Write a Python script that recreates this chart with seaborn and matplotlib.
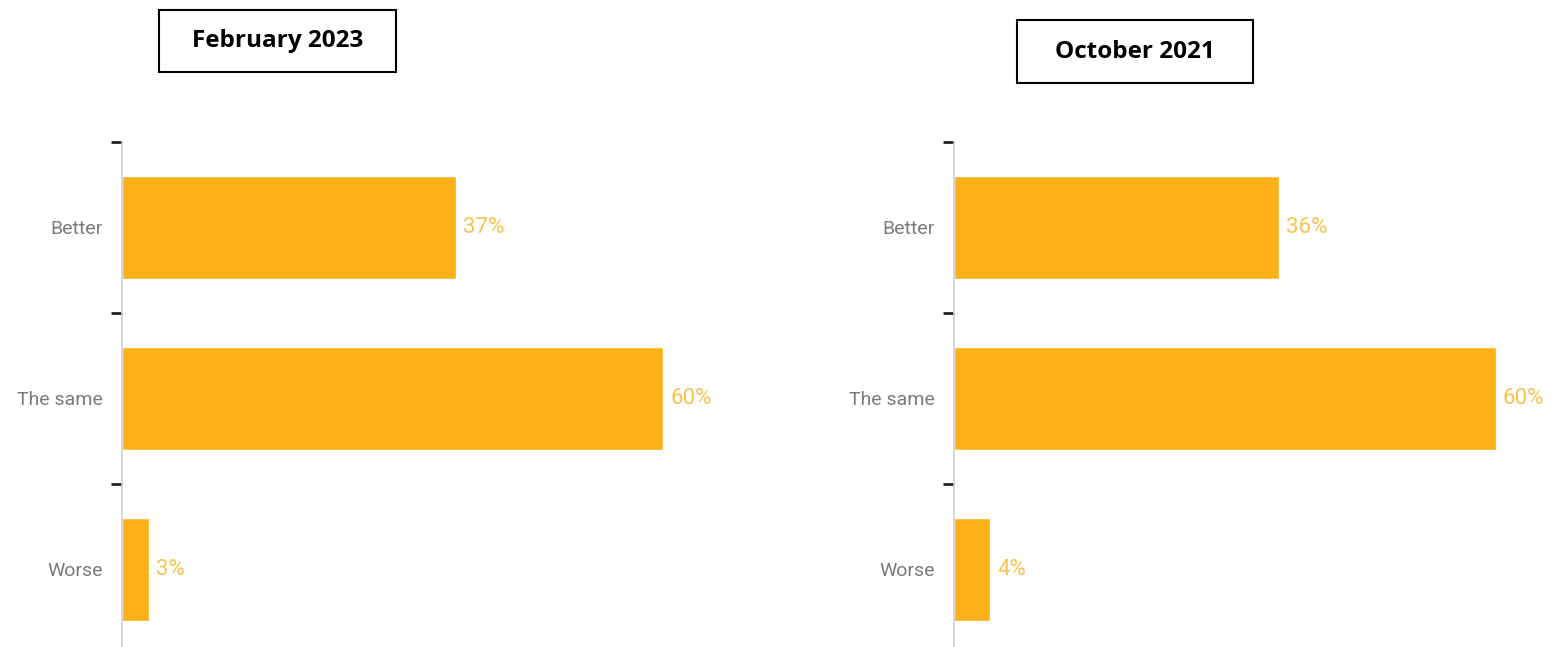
import matplotlib
matplotlib.use("Agg")
import matplotlib.pyplot as plt
import seaborn as sns
import pandas as pd
from matplotlib.patches import Rectangle

# Survey answers for the two waves
categories = ["Better", "The same", "Worse"]
values_feb_2023 = [37, 60, 3]
values_oct_2021 = [36, 60, 4]
panel_titles = ["February 2023", "October 2021"]

BAR_COLOR = "#FBB117"
VALUE_COLOR = "#F6C350"
LABEL_COLOR = "#7a7a7a"

sns.set_theme(style="white")
plt.rcParams["font.family"] = ["Roboto", "DejaVu Sans"]

W, H = 1562, 647
fig = plt.figure(figsize=(W / 100, H / 100), dpi=100)

XMAX = 65
# axes placement in pixels: (left, top, bottom, px per percent)
layouts = [(122, 142, 647, 9.02), (954, 142, 647, 9.03)]
boxes = [(159, 10, 396, 72), (1017, 20, 1253, 83)]

for vals, title, (left, top, bottom, ppu), (bx0, by0, bx1, by1) in zip(
        [values_feb_2023, values_oct_2021], panel_titles, layouts, boxes):
    ax = fig.add_axes([left / W, 1 - bottom / H, XMAX * ppu / W, (bottom - top) / H])
    df = pd.DataFrame({"category": categories, "value": vals})
    sns.barplot(data=df, y="category", x="value", orient="h", color=BAR_COLOR,
                width=0.6, saturation=1, ax=ax)
    # one category band = 171 px; the axis runs off the bottom edge
    ax.set_ylim(-0.5 + (bottom - top) / 171, -0.5)
    ax.set_xlim(0, XMAX)
    ax.set_xlabel("")
    ax.set_ylabel("")
    ax.set_xticks([])
    for s in ["top", "right", "bottom"]:
        ax.spines[s].set_visible(False)
    ax.spines["left"].set_color("#cfcfcf")
    ax.spines["left"].set_linewidth(1.2)
    ax.tick_params(axis="y", which="major", left=False, length=0, pad=14,
                   labelsize=14, labelcolor=LABEL_COLOR)
    ax.set_yticks([-0.5, 0.5, 1.5], minor=True)
    ax.tick_params(axis="y", which="minor", left=True, length=8, width=2,
                   color="#222222")
    ax.patch.set_alpha(0)
    for i, v in enumerate(vals):
        ax.text(v + 7 / ppu, i, f"{v}%", va="center", ha="left",
                fontsize=16, color=VALUE_COLOR, clip_on=False)

    # boxed panel title
    fig.patches.append(Rectangle((bx0 / W, 1 - by1 / H), (bx1 - bx0) / W, (by1 - by0) / H,
                                 transform=fig.transFigure, fill=False,
                                 edgecolor="black", linewidth=1.5))
    fig.text((bx0 + bx1) / 2 / W, 1 - (by0 + by1) / 2 / H, title, ha="center",
             va="center", fontsize=17.5, fontweight="bold", color="black",
             family=["Open Sans", "DejaVu Sans"])

fig.savefig("out.png", dpi=100)
